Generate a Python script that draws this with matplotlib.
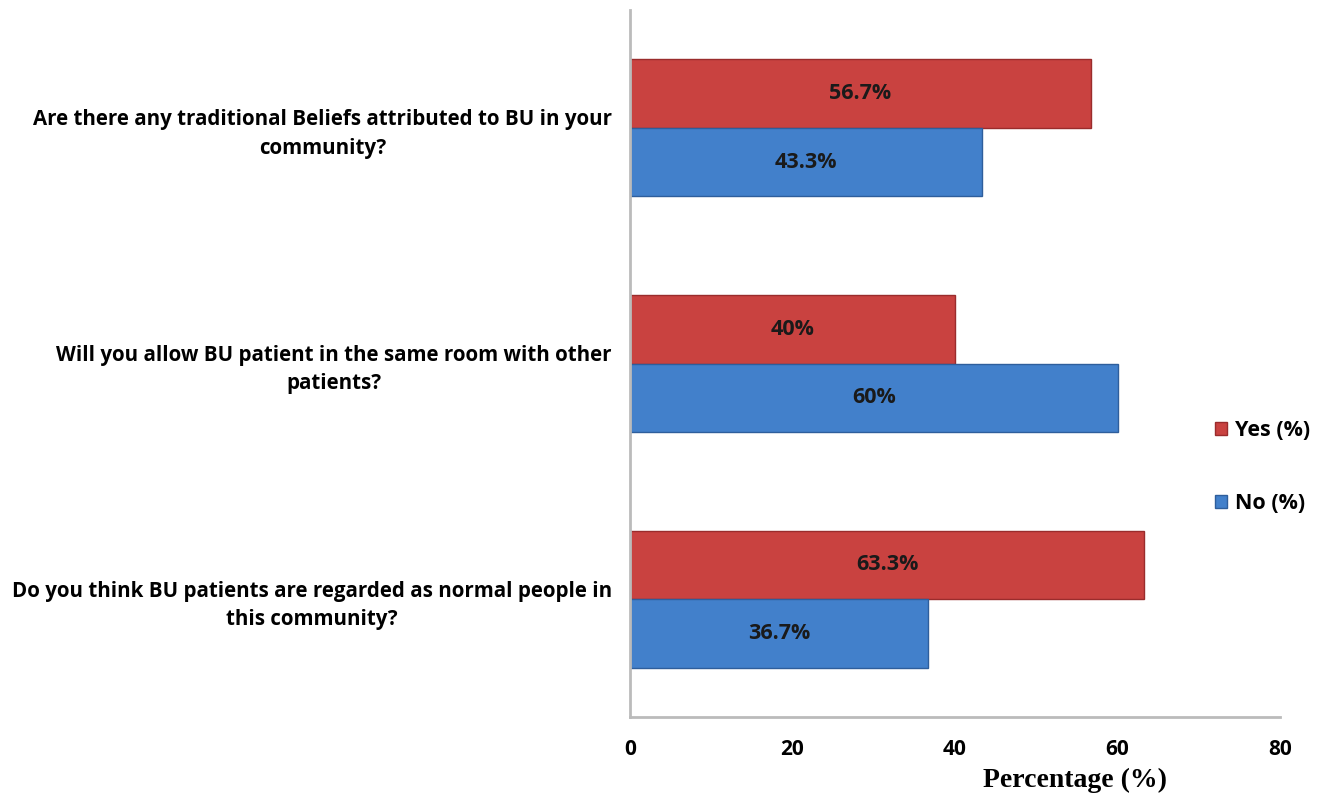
import numpy as np
import matplotlib.pyplot as plt

# Survey data (percent)
questions = [
    "Are there any traditional Beliefs attributed to BU in your\ncommunity?",
    "Will you allow BU patient in the same room with other\npatients?",
    "Do you think BU patients are regarded as normal people in\nthis community?",
]
yes_pct = [56.7, 40, 63.3]
no_pct = [43.3, 60, 36.7]
yes_labels = ["56.7%", "40%", "63.3%"]
no_labels = ["43.3%", "60%", "36.7%"]

RED = "#C94240"
BLUE = "#4280CB"

fig = plt.figure(figsize=(13.19, 8), dpi=100)
ax = fig.add_axes([630 / 1319, 1 - 717 / 800, 650 / 1319, 707 / 800])

y = np.arange(len(questions))
h = 0.29
yes_bars = ax.barh(y - h / 2, yes_pct, height=h, color=RED, edgecolor="#9A2C2C",
                   linewidth=1, label="Yes (%)")
no_bars = ax.barh(y + h / 2, no_pct, height=h, color=BLUE, edgecolor="#2E5E9C",
                  linewidth=1, label="No (%)")

for bars, labs in ((yes_bars, yes_labels), (no_bars, no_labels)):
    for b, lab in zip(bars, labs):
        ax.text(b.get_width() / 2, b.get_y() + b.get_height() / 2, lab,
                ha="center", va="center", fontsize=15.5, fontweight="bold",
                family="Open Sans", color="#1a1a1a")

ax.set_xlim(0, 80)
ax.set_ylim(2.5, -0.5)
ax.set_xticks([0, 20, 40, 60, 80])
ax.set_yticks(y)
ax.set_yticklabels(questions, fontsize=14.8, fontweight="bold", family="Open Sans",
                   multialignment="center", linespacing=1.45)
ax.tick_params(axis="both", length=0)
ax.tick_params(axis="y", pad=13)
ax.tick_params(axis="x", pad=16)
for t in ax.get_xticklabels():
    t.set_fontsize(15)
    t.set_fontweight("bold")
    t.set_family("Open Sans")

for s in ("top", "right"):
    ax.spines[s].set_visible(False)
for s in ("left", "bottom"):
    ax.spines[s].set_color("#BBBBBB")
    ax.spines[s].set_linewidth(2)

fig.text(1075 / 1319, 1 - 780 / 800, "Percentage (%)", ha="center", va="center",
         fontsize=20, fontweight="bold", family="Liberation Serif")

fig.legend(handles=[yes_bars, no_bars], loc="center left",
           bbox_to_anchor=(1196 / 1319, 1 - 467 / 800), frameon=False,
           prop={"family": "Open Sans", "weight": "bold", "size": 15.5},
           handlelength=0.55, handleheight=0.55, labelspacing=2.4, handletextpad=0.35)

fig.savefig("out.png", dpi=100)
